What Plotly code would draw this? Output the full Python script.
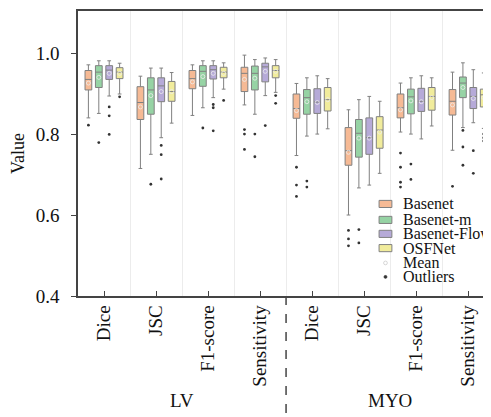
import plotly.graph_objects as go

# ---------------- data ----------------
categories = ["Dice", "JSC", "F1-score", "Sensitivity", "Dice", "JSC", "F1-score", "Sensitivity"]
groups = ["LV", "MYO"]
series = ["Basenet", "Basenet-m", "Basenet-Flow", "OSFNet"]

upper = [
    [0.971, 0.943, 0.971, 0.995, 0.925, 0.860, 0.926, 0.953],
    [0.981, 0.963, 0.981, 0.984, 0.939, 0.885, 0.939, 0.976],
    [0.981, 0.963, 0.981, 0.988, 0.944, 0.893, 0.944, 0.959],
    [0.975, 0.952, 0.976, 0.984, 0.937, 0.881, 0.939, 0.951],
]
q3 = [
    [0.957, 0.917, 0.957, 0.965, 0.899, 0.816, 0.899, 0.910],
    [0.969, 0.939, 0.969, 0.968, 0.910, 0.836, 0.911, 0.941],
    [0.969, 0.939, 0.969, 0.975, 0.912, 0.840, 0.913, 0.915],
    [0.964, 0.930, 0.965, 0.969, 0.915, 0.843, 0.915, 0.911],
]
median = [
    [0.935, 0.878, 0.937, 0.950, 0.863, 0.759, 0.865, 0.881],
    [0.953, 0.909, 0.955, 0.950, 0.890, 0.802, 0.892, 0.926],
    [0.958, 0.919, 0.959, 0.966, 0.879, 0.791, 0.881, 0.893],
    [0.953, 0.905, 0.953, 0.957, 0.885, 0.810, 0.893, 0.897],
]
q1 = [
    [0.909, 0.836, 0.912, 0.905, 0.839, 0.723, 0.840, 0.847],
    [0.915, 0.849, 0.918, 0.909, 0.849, 0.743, 0.850, 0.890],
    [0.935, 0.880, 0.936, 0.929, 0.851, 0.750, 0.856, 0.863],
    [0.937, 0.881, 0.939, 0.939, 0.857, 0.765, 0.859, 0.867],
]
lower = [
    [0.840, 0.715, 0.846, 0.872, 0.747, 0.600, 0.805, 0.760],
    [0.851, 0.750, 0.865, 0.849, 0.795, 0.667, 0.800, 0.816],
    [0.894, 0.791, 0.890, 0.895, 0.800, 0.674, 0.788, 0.828],
    [0.899, 0.827, 0.911, 0.903, 0.813, 0.703, 0.820, 0.814],
]
means = [
    [0.926, 0.867, 0.929, 0.935, 0.858, 0.755, 0.860, 0.872],
    [0.940, 0.895, 0.942, 0.938, 0.880, 0.790, 0.882, 0.915],
    [0.950, 0.905, 0.950, 0.955, 0.878, 0.790, 0.880, 0.888],
    [0.950, 0.905, 0.950, 0.955, 0.885, 0.805, 0.890, 0.890],
]
outliers = [
    [[0.822], [], [], [0.811, 0.800, 0.762], [0.718, 0.674, 0.646],
     [0.562, 0.541, 0.524], [0.753, 0.718, 0.681, 0.669], [0.671]],
    [[0.779], [0.676], [0.815], [0.800, 0.744], [0.684, 0.669],
     [0.564, 0.531], [0.726, 0.688], [0.809, 0.768, 0.723]],
    [[0.867, 0.845, 0.799], [0.772, 0.749, 0.689], [0.873, 0.865, 0.808], [0.821],
     [], [], [], [0.759, 0.703]],
    [[0.892], [], [0.883], [0.895, 0.876], [], [], [], [0.800, 0.791, 0.783]],
]

# ---------------- style ----------------
colors = ["#F6BA95", "#96D3A4", "#B6AAD8", "#F1EC9C"]
edge = "#808080"
font_family = "Liberation Serif, Times New Roman, serif"
offsets = [-0.3, -0.1, 0.1, 0.3]
box_w = 0.13

fig = go.Figure()
ncat = len(categories)
for s, name in enumerate(series):
    xs = [i + offsets[s] for i in range(ncat)]
    fig.add_trace(go.Box(
        name=name, x=xs,
        q1=q1[s], median=median[s], q3=q3[s],
        lowerfence=lower[s], upperfence=upper[s],
        width=box_w, whiskerwidth=0.55,
        fillcolor=colors[s], line=dict(color=edge, width=1),
        showlegend=False, hoverinfo="skip",
    ))
    fig.add_trace(go.Scatter(
        x=xs, y=means[s], mode="markers", showlegend=False,
        marker=dict(symbol="circle-open", size=4, color="#eeeeee", line=dict(width=0.8)),
        hoverinfo="skip",
    ))
    ox, oy = [], []
    for i in range(ncat):
        for v in outliers[s][i]:
            ox.append(i + offsets[s])
            oy.append(v)
    fig.add_trace(go.Scatter(
        x=ox, y=oy, mode="markers", showlegend=False,
        marker=dict(symbol="circle", size=2.8, color="#333333"),
        hoverinfo="skip",
    ))

# ---------------- manual legend (paper coords) ----------------
leg_rows_y = [0.323, 0.267, 0.218, 0.168, 0.116, 0.067]
sw_x0, sw_x1, txt_x = 0.729, 0.760, 0.783
sh = 0.0125
shapes = []
annotations = []
for s, name in enumerate(series):
    yc = leg_rows_y[s]
    shapes.append(dict(type="rect", xref="paper", yref="paper",
                       x0=sw_x0, x1=sw_x1, y0=yc - sh, y1=yc + sh,
                       fillcolor=colors[s], line=dict(color=edge, width=1)))
    annotations.append(dict(text=name, xref="paper", yref="paper", x=txt_x, y=yc,
                            xanchor="left", yanchor="middle", showarrow=False,
                            font=dict(family=font_family, size=16, color="#111")))
xc = (sw_x0 + sw_x1) / 2
for k, (label, fill, lc, r) in enumerate([("Mean", "white", "#cccccc", 0.0045),
                                          ("Outliers", "#333", "#333", 0.0035)]):
    yc = leg_rows_y[4 + k]
    shapes.append(dict(type="circle", xref="paper", yref="paper",
                       x0=xc - r, x1=xc + r, y0=yc - r * 413 / 285, y1=yc + r * 413 / 285,
                       fillcolor=fill, line=dict(color=lc, width=0.8)))
    annotations.append(dict(text=label, xref="paper", yref="paper", x=txt_x, y=yc,
                            xanchor="left", yanchor="middle", showarrow=False,
                            font=dict(family=font_family, size=16, color="#111")))

# group separator and labels
shapes.append(dict(type="line", xref="x", yref="paper", x0=3.5, x1=3.5, y0=0, y1=-0.43,
                   line=dict(color="#444", width=1.5, dash="dash")))
for g, name in enumerate(groups):
    annotations.append(dict(text=name, xref="x", yref="paper", x=1.5 + 4 * g, y=-0.365,
                            xanchor="center", yanchor="middle", showarrow=False,
                            font=dict(family=font_family, size=19, color="#111")))

# page body has an 8px default margin: figure is sized/offset to compensate
fig.update_layout(
    width=483, height=409,
    margin=dict(l=70, r=0, t=3, b=121),
    paper_bgcolor="white", plot_bgcolor="white",
    font=dict(family=font_family, size=19, color="#111"),
    shapes=shapes, annotations=annotations,
    showlegend=False,
    xaxis=dict(
        range=[-0.5, 7.44],
        tickmode="array", tickvals=list(range(ncat)), ticktext=categories,
        tickangle=-90, ticks="inside", ticklen=5, tickcolor="#444", tickwidth=1.2,
        showline=True, linecolor="#444", linewidth=1.5, mirror=True,
        showgrid=False, zeroline=False,
        minor=dict(tick0=0.5, dtick=1, showgrid=True, gridcolor="#ececec", gridwidth=1, ticks=""),
        tickfont=dict(family=font_family, size=19, color="#111"),
    ),
    yaxis=dict(
        range=[0.4, 1.104],
        tickmode="array", tickvals=[0.4, 0.6, 0.8, 1.0], ticktext=["0.4", "0.6", "0.8", "1.0"],
        ticks="outside", ticklen=5, tickcolor="#444", tickwidth=1.2,
        showline=True, linecolor="#444", linewidth=1.5,
        showgrid=False, zeroline=False,
        ticklabelstandoff=8,
        title=dict(text="Value", standoff=10, font=dict(family=font_family, size=18, color="#111")),
        tickfont=dict(family=font_family, size=19, color="#111"),
    ),
)

fig.write_html("out.html")
